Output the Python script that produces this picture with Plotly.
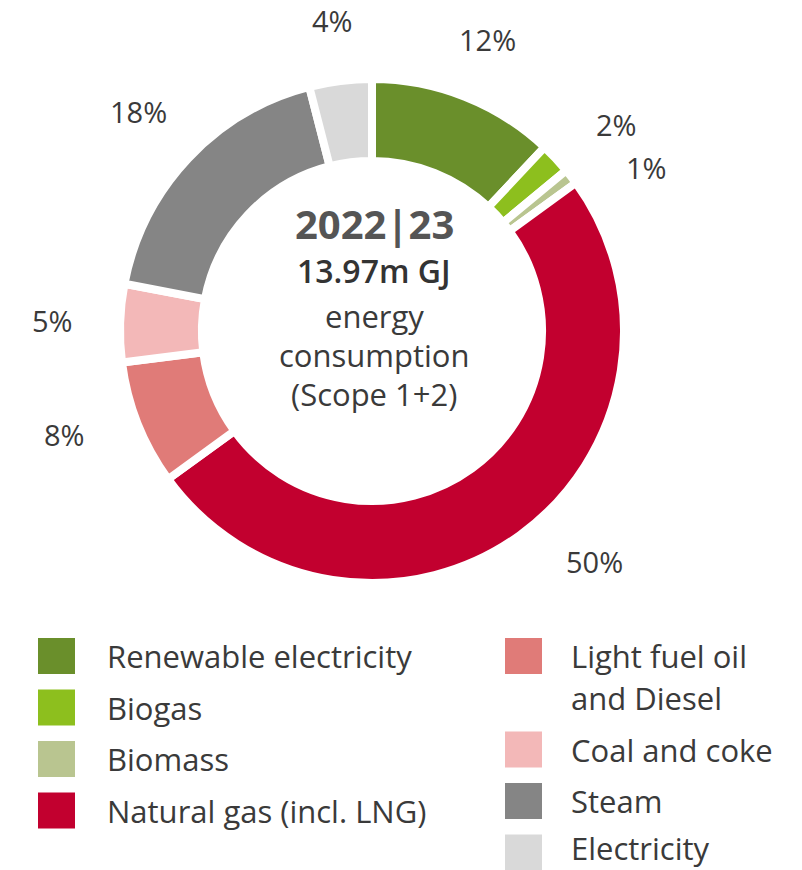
import math
import plotly.graph_objects as go

# ---------------- data ----------------
labels = ["Renewable electricity", "Biogas", "Biomass", "Natural gas (incl. LNG)",
          "Light fuel oil\nand Diesel", "Coal and coke", "Steam", "Electricity"]
values = [12, 2, 1, 50, 8, 5, 18, 4]
colors = ["#6a8f2b", "#8dbf1e", "#b9c590", "#c2002f",
          "#e07b78", "#f3b8b8", "#858585", "#d9d9d9"]
legend_left = [0, 1, 2, 3]
legend_right = [4, 5, 6, 7]
center_lines = ["2022|23", "13.97m GJ", "energy", "consumption", "(Scope 1+2)"]

# ---------------- layout params (pixels) ----------------
W, H = 802, 870
CX, CY = 372, 331          # donut centre (px from top-left)
R = 252                    # donut radius incl. white stroke
GAP = 8                    # white separator width
HOLE = 0.675
LABEL_R = 320
label_nudge_deg = {1: 3, 2: 7, 3: -8, 4: 3}
label_r_adj = {0: -6, 7: -7, 4: 4}
FONT = "Open Sans"
TXT = "#3a3a3a"

def px(x):
    return x / W

def py(y):
    return 1 - y / H

fig = go.Figure()
fig.add_trace(go.Pie(
    labels=[l.replace("\n", " ") for l in labels],
    values=values,
    sort=False,
    direction="clockwise",
    rotation=0,
    hole=HOLE,
    marker=dict(colors=colors, line=dict(color="white", width=GAP)),
    textinfo="none",
    hoverinfo="label+percent",
    showlegend=False,
    domain=dict(x=[px(CX - R), px(CX + R)], y=[py(CY + R), py(CY - R)]),
))

annotations = []
total = sum(values)
cum = 0
for i, v in enumerate(values):
    mid = (cum + v / 2) / total * 360 + label_nudge_deg.get(i, 0)
    cum += v
    a = math.radians(mid)
    r = LABEL_R + label_r_adj.get(i, 0)
    x = CX + r * math.sin(a)
    y = CY - r * math.cos(a)
    annotations.append(dict(
        x=px(x), y=py(y), xref="paper", yref="paper",
        text=f"{round(v / total * 100)}%", showarrow=False,
        font=dict(family=FONT, size=29, color=TXT),
        xanchor="center", yanchor="middle"))

# centre text
center_y = [223, 271, 316, 355, 394]
center_font = [dict(size=40, color="#555555", weight="bold"),
               dict(size=32, color="#333333", weight=600),
               dict(size=31, color=TXT), dict(size=31, color=TXT), dict(size=31, color=TXT)]
for t, yy, f in zip(center_lines, center_y, center_font):
    annotations.append(dict(
        x=px(CX + 2), y=py(yy), xref="paper", yref="paper", text=t, showarrow=False,
        font=dict(family=FONT, **f), xanchor="center", yanchor="middle"))

# custom two-column legend
shapes = []
SQ_W, SQ_H = 37, 36
LINE_H = 42

def legend_col(idx_list, sq_x, txt_x, y0, step):
    y = y0
    for i in idx_list:
        shapes.append(dict(type="rect", xref="paper", yref="paper",
                           x0=px(sq_x), x1=px(sq_x + SQ_W),
                           y0=py(y + SQ_H / 2), y1=py(y - SQ_H / 2),
                           fillcolor=colors[i], line=dict(width=0)))
        parts = labels[i].split("\n")
        for k, p in enumerate(parts):
            annotations.append(dict(
                x=px(txt_x), y=py(min(y + k * LINE_H, H - 22)), xref="paper", yref="paper",
                text=p, showarrow=False, xanchor="left", yanchor="middle",
                font=dict(family=FONT, size=31, color=TXT)))
        y += step + (len(parts) - 1) * LINE_H

legend_col(legend_left, 38, 105, 656, 51.5)
legend_col(legend_right, 505, 569, 656, 51.5)

fig.update_layout(
    width=W, height=H,
    margin=dict(l=0, r=0, t=0, b=0),
    paper_bgcolor="white", plot_bgcolor="white",
    annotations=annotations, shapes=shapes,
)
fig.write_html("out.html")
